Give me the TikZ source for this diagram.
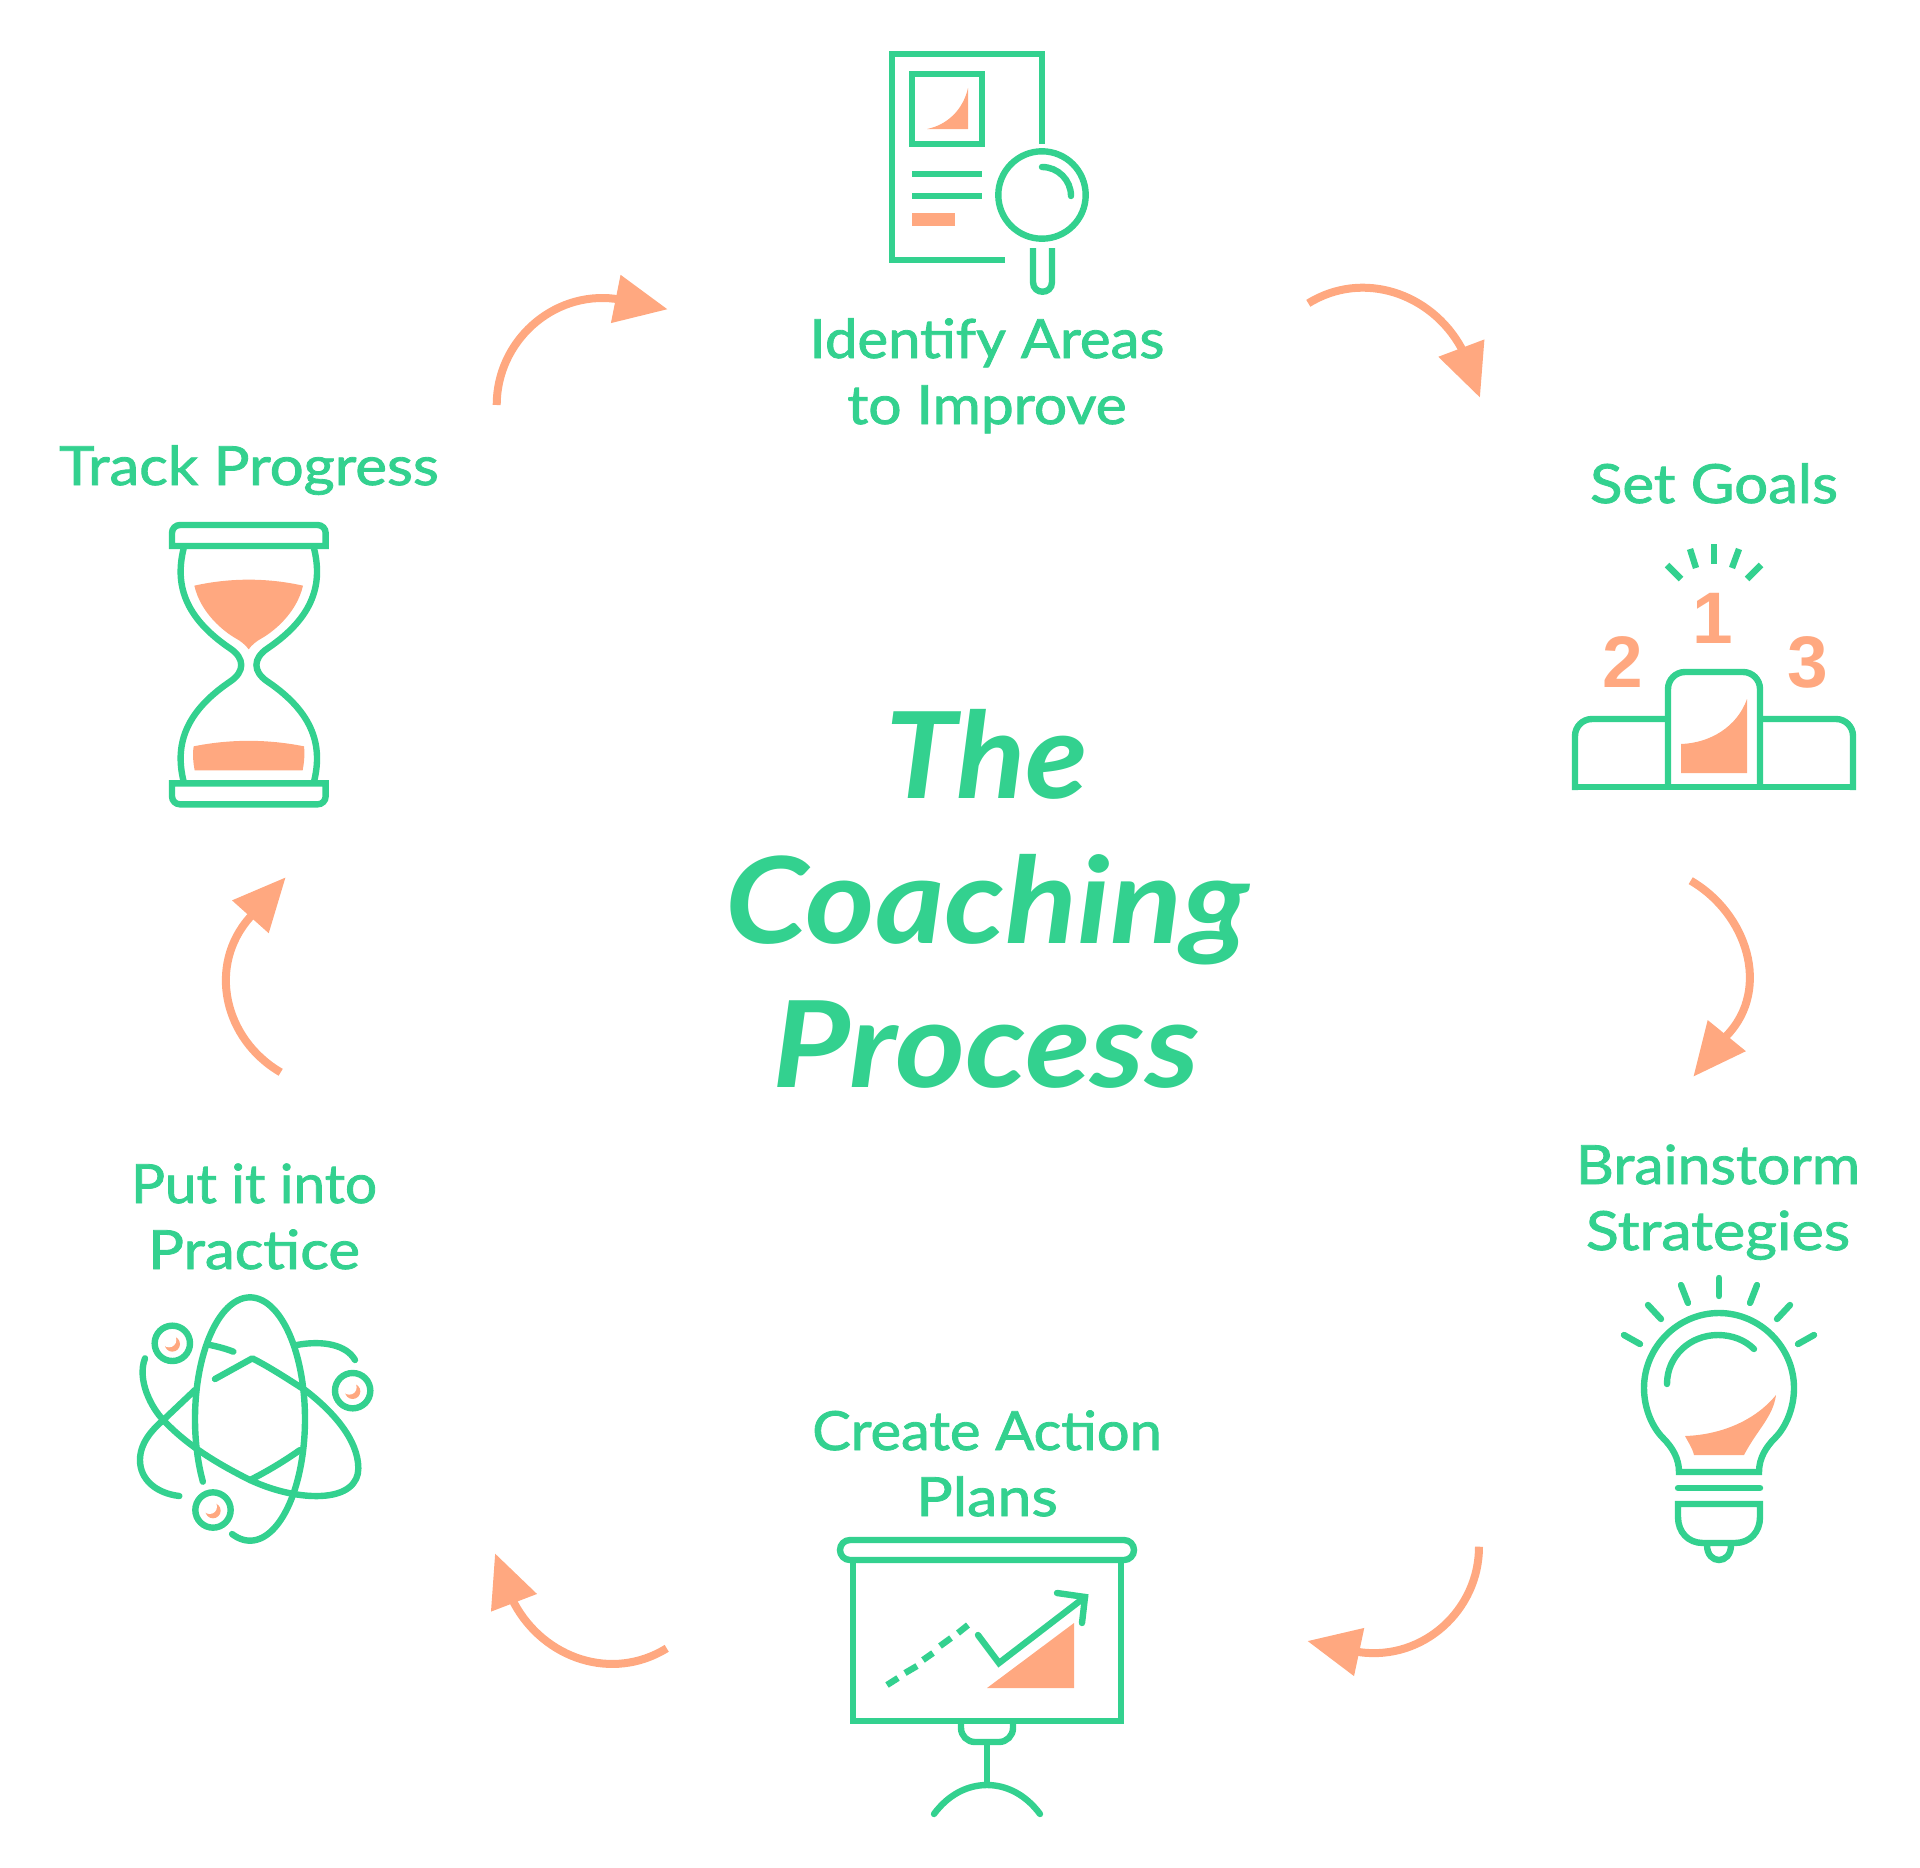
\documentclass[tikz,border=0pt]{standalone}
\usepackage{fontspec}
\usetikzlibrary{arrows.meta}
\setmainfont{Lato}
\newfontfamily\labf[FakeBold=1.5]{Lato}
\newfontfamily\titf{Lato}
\newfontfamily\numf{Liberation Sans}
\definecolor{gr}{HTML}{33D18F}
\definecolor{og}{HTML}{FFA880}
\newcommand{\sx}[2]{\scalebox{#1}[1]{#2}}
\tikzset{
  gl/.style={draw=gr,line width=6.4pt,line join=miter},
  rl/.style={gl,line cap=round,line join=round},
  lab/.style={anchor=base,text=gr,font=\labf\fontsize{54}{60}\selectfont,inner sep=0pt},
  tit/.style={anchor=base,text=gr,font=\titf\bfseries\itshape\fontsize{120}{130}\selectfont,inner sep=0pt},
  num/.style={anchor=base,text=og,font=\numf\bfseries\fontsize{73}{73}\selectfont,inner sep=0pt},
  arw/.style={draw=og,line width=8pt,-{Triangle[length=53pt,width=47pt]}},
  zm/.style={x=0.33333pt,y=-0.33333pt}
}
\begin{document}
\begin{tikzpicture}[x=1pt,y=-1pt]
\useasboundingbox (0,0) rectangle (1920,1868);
% title
\node[tit] (t1) at (987,798) {\sx{1.07}{The}};
\node[tit] (t2) at (987,943) {\sx{1.11}{Coaching}};
\node[tit] (t3) at (986,1087) {\sx{1.12}{Process}};
% labels
\node[lab] (l1a) at (987,358) {\sx{1.074}{Identify Areas}};
\node[lab] (l1b) at (987,424) {\sx{1.086}{to Improve}};
\node[lab] (l2) at (1714,503) {\sx{1.11}{Set Goals}};
\node[lab] (l3a) at (1718,1184) {\sx{1.09}{Brainstorm}};
\node[lab] (l3b) at (1718,1250) {\sx{1.13}{Strategies}};
\node[lab] (l4a) at (987,1450) {\sx{1.07}{Create Action}};
\node[lab] (l4b) at (987,1516) {\sx{1.13}{Plans}};
\node[lab] (l5a) at (254,1203) {\sx{1.05}{Put it into}};
\node[lab] (l5b) at (254,1269) {\sx{1.11}{Practice}};
\node[lab] (l6) at (249,485) {\sx{1.11}{Track Progress}};
% arrows: start, base of head, tip
\coordinate (a1s) at (1308.3,303.3); \coordinate (a1b) at (1461.2,347.7); \coordinate (a1e) at (1480,397.7);
\coordinate (a2s) at (1690.7,880.7); \coordinate (a2b) at (1727.3,1035);  \coordinate (a2e) at (1693.3,1076.7);
\coordinate (a3s) at (1479,1546.7);  \coordinate (a3b) at (1360,1652.2);  \coordinate (a3e) at (1307.3,1641);
\coordinate (a4s) at (666.7,1648.3); \coordinate (a4b) at (514.2,1603.3); \coordinate (a4e) at (495,1553.3);
\coordinate (a5s) at (280.7,1072.3); \coordinate (a5b) at (250,917.2);    \coordinate (a5e) at (285.7,877.3);
\coordinate (a6s) at (496.7,405);    \coordinate (a6b) at (615,298.8);    \coordinate (a6e) at (667.7,309.3);
\draw[arw] (a1s) .. controls (1362.7,269.7) and (1431,293) .. (a1b) -- (a1e);
\draw[arw] (a2s) .. controls (1747.3,913.7) and (1771,988.7) .. (a2b) -- (a2e);
\draw[arw] (a3s) .. controls (1479,1610) and (1423.3,1660.7) .. (a3b) -- (a3e);
\draw[arw] (a4s) .. controls (612.3,1682) and (544,1658.7) .. (a4b) -- (a4e);
\draw[arw] (a5s) .. controls (224,1039.3) and (207,965.7) .. (a5b) -- (a5e);
\draw[arw] (a6s) .. controls (496.7,341.7) and (552.3,291) .. (a6b) -- (a6e);
% document icon
\draw[gl] (1005,260) -- (892,260) -- (892,54) -- (1042,54) -- (1042,144);
\draw[gl] (912,74) rectangle (982,144);
\fill[og] (927,129) .. controls (947,125) and (963,110) .. (968,88) -- (968,129) -- cycle;
\draw[gl] (912,174) -- (982,174);
\draw[gl] (912,196) -- (982,196);
\fill[og] (912,213) rectangle (955,226);
\draw[gl] (1042,195) circle[radius=43.7];
\draw[rl] (1042,167) .. controls (1058,167) and (1071,180) .. (1071,196);
\draw[gl] (1033,248) -- (1033,282) .. controls (1033,295) and (1052,295) .. (1052,282) -- (1052,248);
% podium icon
\draw[gl] (1714,544) -- (1714,564);
\draw[gl] (1690,549) -- (1696,568);
\draw[gl] (1739,549) -- (1732,568);
\draw[gl] (1667,565) -- (1681,579);
\draw[gl] (1761,565) -- (1747,579);
\node[num] (n1) at (1713,643) {1};
\node[num] (n2) at (1623,687) {2};
\node[num] (n3) at (1808,687) {3};
\draw[gl,rounded corners=17pt] (1668,787) -- (1668,672) -- (1760,672) -- (1760,787);
\draw[gl,rounded corners=17pt] (1668,719) -- (1575,719) -- (1575,790);
\draw[gl,rounded corners=17pt] (1760,719) -- (1853,719) -- (1853,790);
\draw[gl] (1572,787) -- (1856,787);
\fill[og] (1681,744) .. controls (1710,743) and (1737,727) .. (1747,699) -- (1747,773) -- (1681,773) -- cycle;
% bulb icon
\draw[rl] (1719,1278) -- (1719,1296);
\draw[rl] (1681,1285) -- (1688,1303);
\draw[rl] (1648,1305) -- (1661,1319);
\draw[rl] (1624,1335) -- (1640,1344);
\draw[rl] (1757,1285) -- (1750,1303);
\draw[rl] (1790,1305) -- (1777,1319);
\draw[rl] (1814,1335) -- (1798,1344);
\draw[gl] (1679,1472) .. controls (1679,1458) and (1672,1447) .. (1663,1438)
  .. controls (1652,1427) and (1644,1408) .. (1644,1388)
  .. controls (1644,1347) and (1678,1313) .. (1719,1313)
  .. controls (1760,1313) and (1794,1347) .. (1794,1388)
  .. controls (1794,1408) and (1786,1427) .. (1775,1438)
  .. controls (1766,1447) and (1759,1458) .. (1759,1472) -- cycle;
\draw[rl] (1667,1384) .. controls (1667,1356) and (1690,1335) .. (1718,1335)
  .. controls (1732,1335) and (1745,1340) .. (1754,1349);
\fill[og] (1685,1436) .. controls (1717,1435) and (1753,1423) .. (1776,1395)
  .. controls (1773,1417) and (1757,1430) .. (1744,1455) -- (1694,1455)
  .. controls (1692,1447) and (1688,1442) .. (1685,1436) -- cycle;
\draw[rl] (1678,1488) -- (1760,1488);
\draw[gl] (1678,1504) -- (1760,1504) -- (1760,1517) .. controls (1760,1532) and (1750,1543) .. (1735,1543)
  -- (1703,1543) .. controls (1688,1543) and (1678,1532) .. (1678,1517) -- cycle;
\draw[gl] (1707,1545) .. controls (1707,1565) and (1731,1565) .. (1731,1545);
% screen icon
\draw[gl,rounded corners=10pt] (840,1540) rectangle (1134,1560);
\draw[gl] (853,1560) -- (853,1721) -- (1121,1721) -- (1121,1560);
\draw[gl,rounded corners=14pt] (961,1721) -- (961,1742) -- (1013,1742) -- (1013,1721);
\draw[gl] (987,1742) -- (987,1785);
\draw[rl] (934,1814) .. controls (948,1795) and (967,1785) .. (987,1785)
  .. controls (1007,1785) and (1026,1795) .. (1040,1814);
\draw[gl] (887,1685) -- (898,1678);
\draw[gl] (905,1673) -- (917,1666);
\draw[gl] (923,1660) -- (933,1653);
\draw[gl] (940,1646) -- (951,1638);
\draw[gl] (958,1633) -- (968,1625);
\draw[rl,line join=miter] (978,1635) -- (999,1663) -- (1085,1597);
\draw[rl,line join=miter] (1057,1593) -- (1085,1597) -- (1082,1623);
\fill[og] (1074,1623) -- (1074,1688) -- (987,1688) -- cycle;
% atom icon
\begin{scope}[shift={(120pt,-1280pt)},zm]
\draw[rl] plot[smooth,domain=149:469,samples=70] ({390+165*cos(\x)},{417+365*sin(\x)});
\draw[rl] (75,235) .. controls (50,300) and (95,385) .. (130,420)
  .. controls (200,495) and (290,550) .. (390,600)
  .. controls (470,637) and (545,650) .. (600,648)
  .. controls (680,645) and (715,610) .. (715,565)
  .. controls (715,480) and (640,395) .. (555,330)
  .. controls (500,295) and (450,262) .. (397,235) -- (285,297);
\draw[rl] (178,648) .. controls (110,640) and (60,600) .. (60,540)
  .. controls (60,490) and (95,450) .. (130,420) -- (225,330);
\draw[rl] (530,195) .. controls (610,180) and (680,195) .. (705,240);
\draw[rl] (270,195) .. controls (295,200) and (320,207) .. (340,215);
\draw[rl] (540,510) .. controls (490,545) and (440,575) .. (390,600);
\foreach \cx/\cy in {157/190,698/332,279/690}{
  \fill[og] (\cx,\cy+2) circle[radius=23];
  \fill[white] (\cx-10,\cy-10) circle[radius=22];
  \draw[gl] (\cx,\cy) circle[radius=53];
}
\end{scope}
% hourglass icon
\begin{scope}[shift={(150pt,-510pt)},zm]
\draw[gl] (66,108) [rounded corners=8pt] -- (66,45) -- (527,45) [sharp corners] -- (527,108) -- cycle;
\draw[gl] (66,820) -- (527,820) [rounded corners=8pt] -- (527,883) -- (66,883) [sharp corners] -- cycle;
\draw[gl] (101,115) .. controls (75,220) and (100,320) .. (240,415)
  .. controls (285,445) and (285,485) .. (240,515)
  .. controls (100,610) and (75,710) .. (101,815);
\draw[gl] (492,115) .. controls (518,220) and (493,320) .. (353,415)
  .. controls (308,445) and (308,485) .. (353,515)
  .. controls (493,610) and (518,710) .. (492,815);
\fill[og] (133,227) .. controls (240,203) and (352,203) .. (459,227)
  .. controls (440,310) and (370,365) .. (335,385) .. controls (320,393) and (305,405) .. (296,418)
  .. controls (287,405) and (272,393) .. (257,385) .. controls (222,365) and (152,310) .. (133,227) -- cycle;
\fill[og] (131,709) .. controls (240,687) and (352,687) .. (462,709)
  .. controls (465,735) and (462,760) .. (458,781) -- (134,781)
  .. controls (130,760) and (127,735) .. (131,709) -- cycle;
\end{scope}
\end{tikzpicture}
\end{document}
